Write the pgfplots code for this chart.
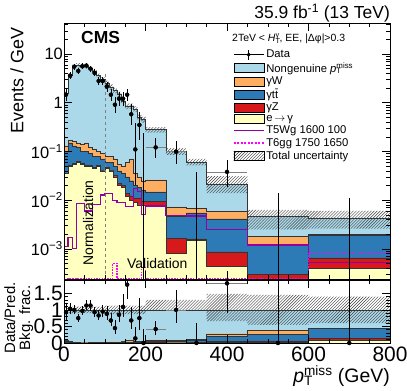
\documentclass[border=0pt]{standalone}
\usepackage{fontspec}
\setmainfont{Liberation Sans}
\usepackage{pgfplots}
\usepackage{pgfplotstable}
\pgfplotsset{compat=1.18}
\usetikzlibrary{patterns}

\definecolor{cNon}{HTML}{ABD9E9}
\definecolor{cW}{HTML}{FDAE61}
\definecolor{cTT}{HTML}{2C7BB6}
\definecolor{cZ}{HTML}{D7191C}
\definecolor{cE}{HTML}{FFFFBF}
\definecolor{cWg}{RGB}{150,0,160}
\definecolor{cGG}{RGB}{255,0,255}

\newcommand{\ptmiss}{\textit{p}\makebox[0pt][l]{\textsubscript{T}}\textsuperscript{miss}}
\newcommand{\fsz}[1]{\fontsize{#1}{#1}\selectfont}

% stacked backgrounds: cumulative tops per bin (left edge x), events/GeV
% first and last rows close the filled areas below the axis
\pgfplotstableread{
x    T      O       B       R        Y
0    1e-5   1e-5    1e-5    1e-5     1e-5
0    1.6    0.13    0.10    0.036    0.035
10   3.6    0.17    0.15    0.052    0.05
20   5.5    0.16    0.13    0.057    0.055
30   5.9    0.15    0.12    0.062    0.06
40   5.9    0.14    0.10    0.057    0.055
50   5.6    0.15    0.10    0.052    0.05
60   5.0    0.12    0.09    0.052    0.05
70   4.5    0.11    0.08    0.047    0.045
80   3.6    0.10    0.08    0.052    0.05
90   3.0    0.09    0.07    0.042    0.04
100  2.5    0.08    0.06    0.047    0.045
110  2.1    0.08    0.06    0.042    0.04
120  1.8    0.07    0.05    0.032    0.03
130  1.5    0.055   0.04    0.022    0.02
140  1.1    0.05    0.035   0.02     0.018
150  0.85   0.06    0.03    0.014    0.012
160  0.86   0.07    0.025   0.012    0.01
170  0.75   0.035   0.02    0.011    0.009
180  0.5    0.03    0.018   0.011    0.008
190  0.45   0.025   0.016   0.0095   0.008
200  0.28   0.026   0.0147  0.0093   0.0079
250  0.10   0.0073  0.0046  0.00164  0.00081
300  0.061  0.0068  0.0055  0.0016   0.0015
350  0.021  0.0058  0.0041  0.00087  0.00043
450  0.0047 0.0018  0.0012  0.0003   0.00004
600  0.0043 0.00195 0.0019  0.00065  0.0004
800  0.0043 0.00195 0.0019  0.00065  0.0004
800  1e-5   1e-5    1e-5    1e-5     1e-5
}\histtab

% signal points
\pgfplotstableread{
x    wg       gg
0    0.0011   2.45e-4
10   0.0017   2.45e-4
20   0.001    2.45e-4
30   0.0086   2.45e-4
40   0.0086   2.45e-4
50   0.006    2.45e-4
60   0.006    2.45e-4
70   0.008    2.45e-4
80   0.008    2.45e-4
90   0.0127   2.45e-4
100  0.0138   2.45e-4
110  0.0138   2.45e-4
120  0.01     5e-4
130  0.0089   2.45e-4
140  0.0089   2.45e-4
150  0.0073   2.45e-4
160  0.0073   2.45e-4
170  0.0175   2.45e-4
180  0.015    2.45e-4
190  0.005    4.3e-4
200  0.0076   2.45e-4
250  0.0049   2.45e-4
300  0.0047   2.45e-4
350  0.0025   2.45e-4
450  0.0012   2.45e-4
600  0.00053  8.5e-4
800  0.00053  8.5e-4
}\sigtab

% background fractions for the lower panel
\pgfplotstableread{
x    fO     fB     fR     fY
0    0      0      0      0
0    0.081  0.063  0.023  0.022
10   0.047  0.042  0.014  0.014
20   0.029  0.024  0.010  0.010
30   0.025  0.020  0.011  0.010
40   0.024  0.017  0.010  0.009
50   0.027  0.018  0.009  0.009
60   0.024  0.018  0.010  0.010
70   0.024  0.018  0.010  0.010
80   0.028  0.022  0.014  0.014
90   0.030  0.023  0.014  0.013
100  0.032  0.024  0.019  0.018
110  0.038  0.029  0.020  0.019
120  0.039  0.028  0.018  0.017
130  0.037  0.027  0.015  0.013
140  0.045  0.032  0.018  0.016
150  0.071  0.035  0.016  0.014
160  0.081  0.029  0.014  0.012
170  0.047  0.027  0.015  0.012
180  0.060  0.036  0.022  0.016
190  0.056  0.036  0.021  0.018
200  0.093  0.053  0.033  0.028
250  0.073  0.046  0.016  0.008
300  0.111  0.090  0.026  0.025
350  0.28   0.195  0.041  0.020
450  0.38   0.26   0.064  0.01
600  0.45   0.44   0.15   0.09
800  0.45   0.44   0.15   0.09
800  0      0      0      0
}\fractab

% data, events / GeV
\pgfplotstableread{
x    y      el     eh     ex
5    1.46   0.37   0.47   5
15   3.6    0.59   0.69   5
25   5.5    0.73   0.84   5
35   4.5    0.66   0.77   5
45   5.6    0.74   0.85   5
55   5.8    0.75   0.86   5
65   5.0    0.70   0.81   5
75   4.1    0.63   0.74   5
85   2.8    0.52   0.63   5
95   2.8    0.52   0.63   5
105  2.15   0.46   0.57   5
115  1.46   0.37   0.48   5
125  0.91   0.30   0.41   5
135  1.21   0.34   0.45   5
145  1.21   0.34   0.45   5
155  1.46   0.37   0.48   5
165  0.58   0.23   0.35   5
175  0.11   0.09   0.27   5
185  0.35   0.18   0.30   5
225  0.121  0.048  0.07   25
275  0.099  0.044  0.066  25
400  0.038  0.019  0.028  50
}\datatab

% data / prediction
\pgfplotstableread{
x    r      erl    erh    ex
5    0.93   0.23   0.29   5
15   1.03   0.16   0.19   5
25   1.0    0.13   0.15   5
35   0.75   0.11   0.13   5
45   0.97   0.13   0.14   5
55   1.13   0.14   0.16   5
65   1.13   0.15   0.17   5
75   0.93   0.14   0.16   5
85   0.83   0.15   0.18   5
95   0.95   0.17   0.21   5
105  0.88   0.19   0.23   5
115  0.68   0.18   0.23   5
125  0.45   0.17   0.23   5
135  0.85   0.23   0.30   5
145  1.09   0.30   0.40   5
155  1.76   0.44   0.57   5
165  0.68   0.27   0.41   5
175  0.14   0.12   0.34   5
185  0.75   0.37   0.62   5
195  0      0      0.41   5
225  0.42   0.17   0.23   25
275  1.0    0.4    0.6    25
325  0      0      0.6    25
400  1.8    0.9    1.3    50
525  0      0      2.8    75
700  0      0      2.1    100
}\ratiotab

\pgfplotsset{
  boxleg/.style={legend image code/.code={\fill[##1] (0bp,-4.5bp) rectangle (30bp,4.5bp);}},
  dataleg/.style={legend image code/.code={%
    \draw[black, line width=0.5pt] (0bp,0bp) -- (30bp,0bp) (15bp,-5bp) -- (15bp,5bp);
    \fill[black] (15bp,0bp) circle (1.8bp);}},
  wgleg/.style={legend image code/.code={\draw[draw=cWg, line width=1.2pt] (0bp,0bp) -- (30bp,0bp);}},
  ggleg/.style={legend image code/.code={%
    \draw[draw=cGG, color=cGG, line width=1.3pt, dash pattern=on 2pt off 1.5pt] (0bp,0bp) -- (30bp,0bp);}},
  histo/.style={const plot, draw=black!80, line width=0.4pt, forget plot},
  hatch/.style={const plot, draw=none, pattern=north east lines, pattern color=black!75, forget plot},
}

\begin{document}
\begin{tikzpicture}
\path[use as bounding box] (0bp,0bp) rectangle (407bp,391bp);

\begin{axis}[
  at={(64bp,112bp)}, anchor=south west,
  width=326bp, height=256bp, scale only axis,
  xmin=0, xmax=800, ymode=log, ymin=2.4e-4, ymax=43.4,
  xtick={0,200,400,600,800}, minor x tick num=3, xticklabels={},
  ytick={1e-3,1e-2,1e-1,1,10},
  yticklabels={10\textsuperscript{−3},10\textsuperscript{−2},10\textsuperscript{−1},1,10},
  minor ytick={3e-4,4e-4,5e-4,6e-4,7e-4,8e-4,9e-4,2e-3,3e-3,4e-3,5e-3,6e-3,7e-3,8e-3,9e-3,
    0.02,0.03,0.04,0.05,0.06,0.07,0.08,0.09,0.2,0.3,0.4,0.5,0.6,0.7,0.8,0.9,2,3,4,5,6,7,8,9,20,30,40},
  tick pos=both, tick align=inside,
  major tick length=8bp, minor tick length=4bp,
  every tick/.style={black, line width=0.5pt},
  axis line style={line width=0.8pt},
  yticklabel style={font=\fsz{16.5}, inner sep=1bp},
  axis on top,
  legend style={at={(0.518,0.903)}, anchor=north west, draw=none, fill=none,
    font=\fontsize{11.3}{12.5}\selectfont, inner sep=0pt, row sep=-0.8bp,
    /tikz/every even column/.append style={column sep=6bp}},
  legend cell align=left,
]
% stacked backgrounds, drawn from the total down
\addplot[histo, fill=cNon] table[x=x,y=T] {\histtab};
\addplot[histo, fill=cW]   table[x=x,y=O] {\histtab};
\addplot[histo, fill=cTT]  table[x=x,y=B] {\histtab};
\addplot[histo, fill=cZ]   table[x=x,y=R] {\histtab};
\addplot[histo, fill=cE]   table[x=x,y=Y] {\histtab};

% total uncertainty: upper edge left to right, lower edge back
\addplot[hatch] coordinates {
 (0,1.76)(10,3.96)(20,6.05)(30,6.49)(40,6.49)(50,6.16)(60,5.5)(70,4.95)(80,3.96)(90,3.3)
 (100,2.83)(110,2.37)(120,2.03)(130,1.7)(140,1.24)(150,0.96)(160,0.97)(170,0.85)(180,0.565)
 (190,0.51)(200,0.316)(250,0.115)(300,0.070)(350,0.031)(450,0.0063)(600,0.006)(800,0.006)
 (800,0.0026)(600,0.0025)(450,0.0139)(350,0.052)(300,0.085)(250,0.244)(200,0.39)(190,0.435)
 (180,0.65)(170,0.75)(160,0.74)(150,0.96)(140,1.31)(130,1.57)(120,1.83)(110,2.18)(100,2.7)
 (90,3.24)(80,4.05)(70,4.5)(60,5.04)(50,5.31)(40,5.31)(30,4.95)(20,3.24)(10,1.44)(0,1.44)
};

% signals
\addplot[const plot, cWg, line width=1.2pt, forget plot] table[x=x,y=wg] {\sigtab};
\addplot[const plot, cGG, line width=1.2pt, dash pattern=on 1.5pt off 1.2pt, forget plot]
  table[x=x,y=gg] {\sigtab};

% normalization / validation boundary
\addplot[gray, dashed, line width=0.5pt, forget plot] coordinates {(100,1e-5) (100,4)};

% data
\addplot[only marks, mark=none, forget plot, error bars/.cd, x dir=both, x explicit,
  error mark=none, error bar style={gray, line width=0.6pt}]
  table[x=x, y=y, x error=ex] {\datatab};
\addplot[only marks, mark=*, mark size=1.8bp, black, forget plot,
  error bars/.cd, y dir=both, y explicit, error mark=none,
  error bar style={black, line width=0.5pt}]
  table[x=x, y=y, y error plus=eh, y error minus=el] {\datatab};
\addplot[black, line width=0.5pt, forget plot] coordinates {(195,1e-5) (195,0.24)};
\addplot[black, line width=0.5pt, forget plot] coordinates {(325,1e-5) (325,0.037)};
\addplot[black, line width=0.5pt, forget plot] coordinates {(525,1e-5) (525,0.014)};
\addplot[black, line width=0.5pt, forget plot] coordinates {(700,1e-5) (700,0.011)};

\node[rotate=90, font=\fsz{14}] at (axis cs:59,0.0034) {Normalization};
\node[font=\fsz{14}] at (axis cs:229,5.1e-4) {Validation};

\addlegendimage{dataleg}\addlegendentry{Data}
\addlegendimage{boxleg, fill=cNon}\addlegendentry{Nongenuine \ptmiss}
\addlegendimage{boxleg, fill=cW}\addlegendentry{γW}
\addlegendimage{boxleg, fill=cTT}\addlegendentry{γt\={t}}
\addlegendimage{boxleg, fill=cZ}\addlegendentry{γZ}
\addlegendimage{boxleg, fill=cE}\addlegendentry{e\,$\rightarrow$\,γ}
\addlegendimage{wgleg}\addlegendentry{T5Wg 1600 100}
\addlegendimage{ggleg}\addlegendentry{T6gg 1750 1650}
\addlegendimage{boxleg, pattern=north east lines, pattern color=black!75}\addlegendentry{Total uncertainty}
\end{axis}

\begin{axis}[
  at={(64bp,48bp)}, anchor=south west,
  width=326bp, height=63bp, scale only axis,
  xmin=0, xmax=800, ymin=0, ymax=1.9,
  xtick={0,200,400,600,800}, minor x tick num=3,
  ytick={0,0.5,1,1.5}, minor y tick num=4,
  tick pos=both, tick align=inside,
  major tick length=8bp, minor tick length=4bp,
  every tick/.style={black, line width=0.5pt},
  axis line style={line width=0.8pt},
  /pgf/number format/assume math mode=true,
  ticklabel style={font=\fsz{21}},
  yticklabel style={inner sep=1bp},
  xticklabel style={inner sep=4bp},
  axis on top,
]
\addplot[histo, fill=cNon] coordinates {(0,0) (0,1) (800,1) (800,0)};
\addplot[histo, fill=cW]  table[x=x,y=fO] {\fractab};
\addplot[histo, fill=cTT] table[x=x,y=fB] {\fractab};
\addplot[histo, fill=cZ]  table[x=x,y=fR] {\fractab};
\addplot[histo, fill=cE]  table[x=x,y=fY] {\fractab};

\addplot[hatch] coordinates {
 (0,1.1)(100,1.13)(200,1.3)(350,1.48)(450,1.45)(600,1.4)(800,1.4)
 (800,0.6)(600,0.55)(450,0.66)(350,0.98)(200,0.87)(100,0.9)(0,0.9)
};

\addplot[only marks, mark=none, forget plot, error bars/.cd, x dir=both, x explicit,
  error mark=none, error bar style={gray, line width=0.6pt}]
  table[x=x, y=r, x error=ex] {\ratiotab};
\addplot[only marks, mark=*, mark size=1.8bp, black, forget plot,
  error bars/.cd, y dir=both, y explicit, error mark=none,
  error bar style={black, line width=0.5pt}]
  table[x=x, y=r, y error plus=erh, y error minus=erl] {\ratiotab};
\end{axis}

\node[rotate=90, anchor=east, font=\fsz{18}] at (17bp,367bp) {Events / GeV};
\node[rotate=90, anchor=base, font=\fsz{15}] at (15bp,73bp) {Data/Pred.};
\node[rotate=90, anchor=base, font=\fsz{15}] at (30bp,73bp) {Bkg. frac.};
\node[anchor=base east, font=\fsz{19.5}, inner sep=0pt] at (390bp,8.5bp) {\ptmiss{} (GeV)};
\node[anchor=base east, font=\fsz{17.5}, inner sep=0pt] at (390bp,372.7bp) {35.9 fb\textsuperscript{-1} (13 TeV)};
\node[anchor=base west, font=\bfseries\fsz{17.5}, inner sep=0pt] at (81bp,347.7bp) {CMS};
\node[anchor=base west, font=\fsz{10.5}, inner sep=0pt] at (232bp,349.3bp)
  {2TeV < \textit{H}\makebox[0pt][l]{\textsubscript{T}}\textsuperscript{γ}, EE, |Δφ|>0.3};
\end{tikzpicture}
\end{document}
